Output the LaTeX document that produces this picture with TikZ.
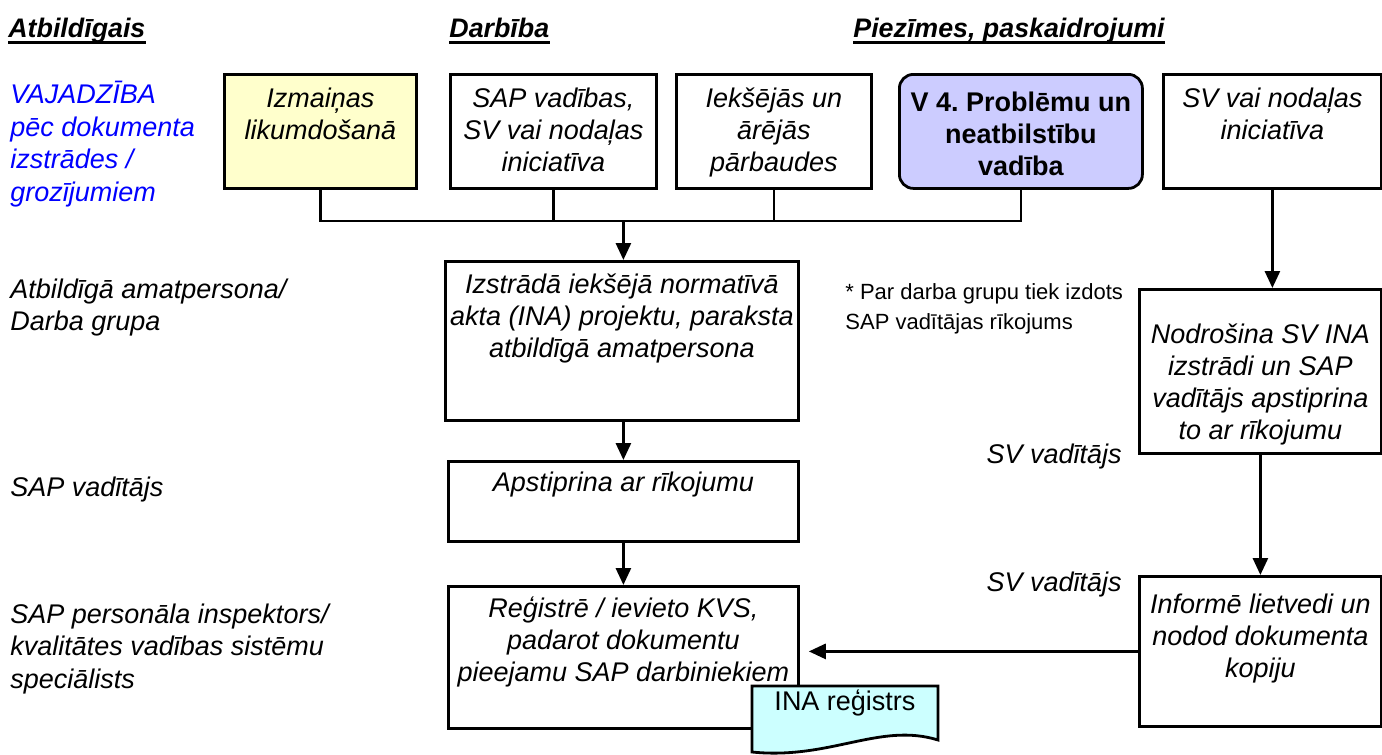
\documentclass[tikz,border=0pt]{standalone}
\usepackage{fontspec}
\setmainfont{Liberation Sans}
\usetikzlibrary{arrows.meta}
\definecolor{lawyellow}{HTML}{FFFFCC}
\definecolor{vfourblue}{HTML}{CCCCFF}
\definecolor{regcyan}{HTML}{CCFFFF}
\frenchspacing

\begin{document}
\begin{tikzpicture}[x=0.5pt, y=-0.5pt,
    stepbox/.style n args={3}{draw, line width=1.4pt, inner sep=0pt, anchor=north west,
        font=\fontsize{13.5}{16}\selectfont\itshape,
        execute at begin node={\begin{minipage}[t][#2][t]{#1}\centering\vspace*{#3}\strut},
        execute at end node={\end{minipage}}},
    roletext/.style={inner sep=0pt, anchor=base west,
        font=\fontsize{13.5}{16.4}\selectfont\itshape,
        execute at begin node={\begin{minipage}[t]{80mm}\raggedright},
        execute at end node={\end{minipage}}},
    headtext/.style={inner sep=0pt, anchor=base west, font=\fontsize{13.4}{16}\selectfont\bfseries\itshape},
    sidetext/.style={inner sep=0pt, anchor=base east, font=\fontsize{13.5}{16}\selectfont\itshape},
    conn/.style={line width=1.4pt},
    arr/.style={line width=1.4pt, -{Triangle[length=8.5pt,width=7.5pt]}}]

    \useasboundingbox (0,0) rectangle (1382,755);

    % headings
    \node[headtext] (hd1) at (8,37) {Atbildīgais};
    \node[headtext] (hd2) at (449,37) {Darbība};
    \node[headtext] (hd3) at (853,37) {Piezīmes, paskaidrojumi};
    \foreach \h in {hd1,hd2,hd3}
        \draw[line width=1.3pt] ([yshift=-2.8pt]\h.base west) -- ([yshift=-2.8pt]\h.base east);

    % left column
    \node[roletext, text=blue] (need) at (10,81) {VAJADZĪBA\\pēc dokumenta\\izstrādes /\\grozījumiem};
    \node[roletext] (role1) at (10,298) {Atbildīgā amatpersona/\\Darba grupa};
    \node[roletext] (role2) at (10,496) {SAP vadītājs};
    \node[roletext] (role3) at (10,623) {SAP personāla inspektors/\\kvalitātes vadības sistēmu\\speciālists};

    % top row
    \node[stepbox={96pt}{57pt}{5.3pt}, fill=lawyellow] (law) at (223,73) {Izmaiņas\\likumdošanā};
    \node[stepbox={103pt}{57pt}{5.3pt}] (mgmt) at (449,73) {SAP vadības,\\SV vai nodaļas\\iniciatīva};
    \node[stepbox={97.5pt}{57pt}{5.3pt}] (audit) at (675,73) {Iekšējās un\\ārējās\\pārbaudes};
    \node[stepbox={121.5pt}{57pt}{7.3pt}, fill=vfourblue, rounded corners=7pt,
        font=\fontsize{13.5}{16}\selectfont\bfseries] (vfour) at (898,73) {V 4. Problēmu un\\neatbilstību\\vadība};
    \node[stepbox={109pt}{57pt}{5.3pt}] (dept) at (1162,73) {SV vai nodaļas\\iniciatīva};

    % middle column
    \node[stepbox={176.5pt}{79.5pt}{4.8pt}] (draft) at (444,260) {Izstrādā iekšējā normatīvā\\akta (INA) projektu, paraksta\\atbildīgā amatpersona};
    \node[stepbox={175pt}{40pt}{3.8pt}] (approve) at (447,460) {Apstiprina ar rīkojumu};
    \node[stepbox={175pt}{71pt}{4.3pt}] (register) at (447,585) {Reģistrē / ievieto KVS,\\padarot dokumentu\\pieejamu SAP darbiniekiem};

    % right column
    \node[stepbox={121pt}{82pt}{15.8pt}] (svina) at (1138,288) {Nodrošina SV INA\\izstrādi un SAP\\vadītājs apstiprina\\to ar rīkojumu};
    \node[stepbox={121pt}{75pt}{7.3pt}] (inform) at (1138,575) {Informē lietvedi un\\nodod dokumenta\\kopiju};

    \node[sidetext] (svl1) at (1122,463) {SV vadītājs};
    \node[sidetext] (svl2) at (1122,591) {SV vadītājs};

    \node[roletext, font=\fontsize{11}{15}\selectfont] (note) at (845,299) {* Par darba grupu tiek izdots\\SAP vadītājas rīkojums};

    % document
    \filldraw[fill=regcyan, line width=1.4pt] (752,686) -- (938,686) -- (938,740)
        .. controls (880,722) and (830,760) .. (752,752) -- cycle;
    \node[font=\fontsize{13.5}{16}\selectfont] (inareg) at (845,703) {INA reģistrs};

    % connectors
    \coordinate (jn) at (approve.north |- 0,221);
    \draw[conn] (law.south) -- (law.south |- jn) -- (vfour.south |- jn) -- (vfour.south);
    \draw[conn] (mgmt.south) -- (mgmt.south |- jn);
    \draw[conn] (audit.south) -- (audit.south |- jn);
    \draw[arr] (jn) -- (jn |- draft.north);
    \draw[arr] (approve.north |- draft.south) -- (approve.north);
    \draw[arr] (approve.south) -- (register.north);
    \draw[arr] (dept.south) -- (dept.south |- svina.north);
    \draw[arr] (svina.south) -- (inform.north);
    \draw[arr, shorten >=4.5pt] (inform.west) -- (inform.west -| register.east);
\end{tikzpicture}
\end{document}
